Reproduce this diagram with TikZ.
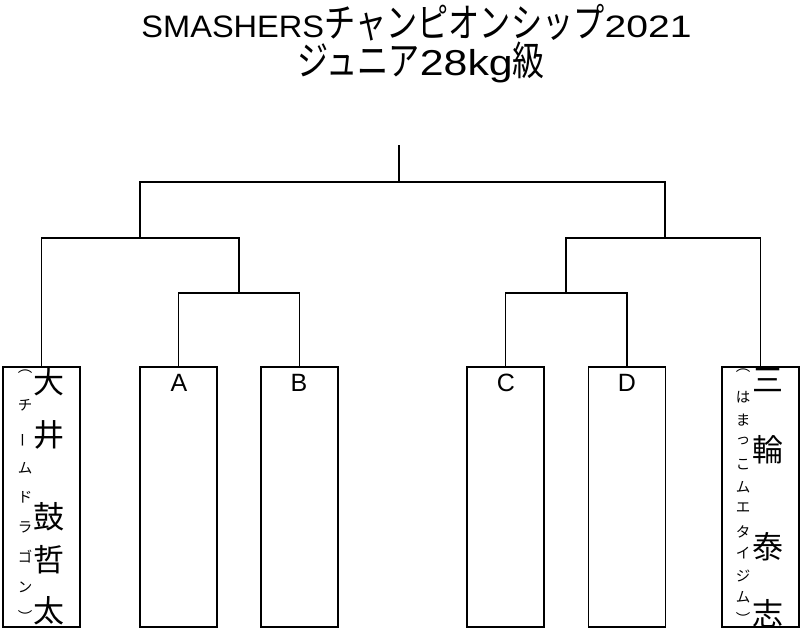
\documentclass[tikz,border=0pt]{standalone}
\usepackage{fontspec}
\usepackage{graphicx}
\setmainfont{Noto Sans CJK JP}
\newfontfamily\latinfont{Liberation Sans}
\usetikzlibrary{positioning}

\begin{document}
\begin{tikzpicture}[x=1pt,y=-1pt]
\tikzstyle{every node}+=[inner sep=0pt]
\tikzset{entry/.style={draw=black, line width=1.5pt, minimum width=77pt, minimum height=260pt},
  bigch/.style={font=\fontsize{31}{31}\selectfont},
  smallch/.style={font=\fontsize{14.5}{14.5}\selectfont},
  letter/.style={font=\latinfont\fontsize{25}{25}\selectfont},
  heading/.style={font=\fontsize{40}{40}\selectfont, anchor=base}}
\useasboundingbox (0,0) rectangle (800,629);
\draw (416.5,37) node [heading] (t1) {\scalebox{1.05}[1]{\latinfont\fontsize{31}{31}\selectfont SMASHERS}\scalebox{0.78}[1]{チャンピオンシップ}\scalebox{1.26}[1]{\latinfont\fontsize{31}{31}\selectfont 2021}};
\draw (421,75.5) node [heading] (t2) {\scalebox{0.78}[1]{ジュニア}\scalebox{1.19}[1]{\latinfont\fontsize{36}{36}\selectfont 28kg}\scalebox{0.8}[1]{級}};
% entries
\node [entry] (p1) at (41.5,497) {};
\node [entry] (p2) at (178.5,497) {};
\node [entry] (p3) at (299.5,497) {};
\node [entry] (p4) at (505.5,497) {};
\node [entry] (p5) at (627,497) {};
\node [entry] (p6) at (760.5,497) {};
% junctions
\coordinate (top) at (399,145);
\coordinate (jF) at (399,182);
\coordinate (jL) at (140,238);
\coordinate (jR) at (665,238);
\coordinate (jAB) at (239,293);
\coordinate (jCD) at (566,293);
\draw [black, line width=1.5pt] (p2.north) |- (jAB) -| (p3.north);
\draw [black, line width=1.5pt] (p1.north) |- (jL) -| (jAB);
\draw [black, line width=1.5pt] (p4.north) |- (jCD) -| (p5.north);
\draw [black, line width=1.5pt] (jCD) |- (jR) -| (p6.north);
\draw [black, line width=1.5pt] (jL) |- (jF) -| (jR);
\draw [black, line width=1.5pt] (jF) -- (top);
% letters
\node [letter] (lA) at (179,383) {A};
\node [letter] (lB) at (299,383) {B};
\node [letter] (lC) at (506,383) {C};
\node [letter] (lD) at (627,383) {D};
% left name
\node [bigch] (a1) at (49,382) {大};
\node [bigch] (a2) at (49,435) {井};
\node [bigch] (a3) at (49,517) {鼓};
\node [bigch] (a4) at (49,560) {哲};
\node [bigch] (a5) at (49,611) {太};
\node [smallch] (b1) at (25,372) {︵};
\node [smallch] (b2) at (25,405) {チ};
\node [smallch, rotate=90] (b3) at (25,440) {ー};
\node [smallch] (b4) at (25,468) {ム};
\node [smallch] (b5) at (25,497) {ド};
\node [smallch] (b6) at (25,527) {ラ};
\node [smallch] (b7) at (25,557) {ゴ};
\node [smallch] (b8) at (25,587) {ン};
\node [smallch] (b9) at (25,616) {︶};
% right name
\node [bigch] (c1) at (768,380) {三};
\node [bigch] (c2) at (768,450) {輪};
\node [bigch] (c3) at (768,547) {泰};
\node [bigch] (c4) at (768,614) {志};
\node [smallch] (d1) at (743,371) {︵};
\node [smallch] (d2) at (743,397) {は};
\node [smallch] (d3) at (743,420) {ま};
\node [smallch] (d4) at (743,441) {っ};
\node [smallch] (d5) at (743,465) {こ};
\node [smallch] (d6) at (743,487) {ム};
\node [smallch] (d7) at (743,508) {エ};
\node [smallch] (d8) at (743,532) {タ};
\node [smallch] (d9) at (743,553) {イ};
\node [smallch] (d10) at (743,576) {ジ};
\node [smallch] (d11) at (743,597) {ム};
\node [smallch] (d12) at (743,618) {︶};
\end{tikzpicture}
\end{document}
